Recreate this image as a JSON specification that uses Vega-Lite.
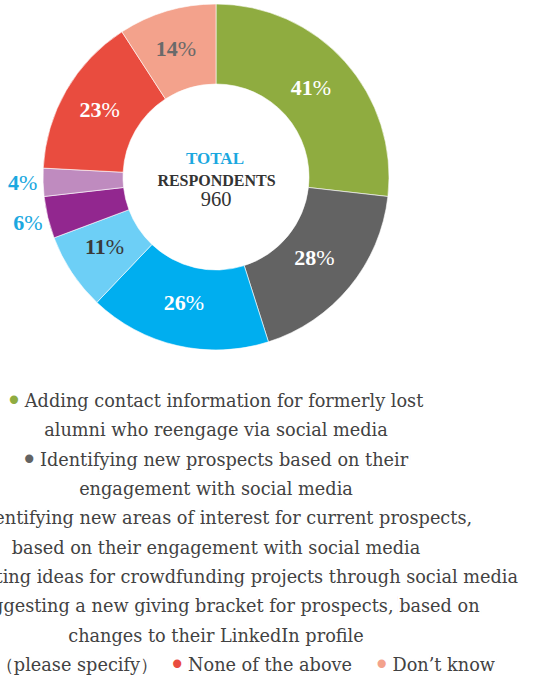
{
  "$schema": "https://vega.github.io/schema/vega-lite/v6.json",
  "width": 534,
  "height": 681,
  "autosize": {"type": "none"},
  "padding": 0,
  "background": "white",
  "config": {"view": {"stroke": null}, "text": {"font": "DejaVu Serif"}},
  "datasets": {
    "slices": [
      {"rank": 1, "category": "Adding contact information for formerly lost alumni who reengage via social media", "pct": 41},
      {"rank": 2, "category": "Identifying new prospects based on their engagement with social media", "pct": 28},
      {"rank": 3, "category": "Identifying new areas of interest for current prospects, based on their engagement with social media", "pct": 26},
      {"rank": 4, "category": "Generating ideas for crowdfunding projects through social media", "pct": 11},
      {"rank": 5, "category": "Suggesting a new giving bracket for prospects, based on changes to their LinkedIn profile", "pct": 6},
      {"rank": 6, "category": "Other (please specify)", "pct": 4},
      {"rank": 7, "category": "None of the above", "pct": 23},
      {"rank": 8, "category": "Don’t know", "pct": 14}
    ],
    "legend": [
      {"line": 1, "lead": true, "category": "Adding contact information for formerly lost alumni who reengage via social media", "text": "Adding contact information for formerly lost"},
      {"line": 2, "lead": false, "category": "Adding contact information for formerly lost alumni who reengage via social media", "text": "alumni who reengage via social media"},
      {"line": 3, "lead": true, "category": "Identifying new prospects based on their engagement with social media", "text": "Identifying new prospects based on their"},
      {"line": 4, "lead": false, "category": "Identifying new prospects based on their engagement with social media", "text": "engagement with social media"},
      {"line": 5, "lead": true, "category": "Identifying new areas of interest for current prospects, based on their engagement with social media", "text": "Identifying new areas of interest for current prospects,"},
      {"line": 6, "lead": false, "category": "Identifying new areas of interest for current prospects, based on their engagement with social media", "text": "based on their engagement with social media"},
      {"line": 7, "lead": true, "category": "Generating ideas for crowdfunding projects through social media", "text": "Generating ideas for crowdfunding projects through social media"},
      {"line": 8, "lead": true, "category": "Suggesting a new giving bracket for prospects, based on changes to their LinkedIn profile", "text": "Suggesting a new giving bracket for prospects, based on"},
      {"line": 9, "lead": false, "category": "Suggesting a new giving bracket for prospects, based on changes to their LinkedIn profile", "text": "changes to their LinkedIn profile"},
      {"line": 10, "lead": true, "category": "Other (please specify)", "text": "Other（please specify）"},
      {"line": 10, "lead": true, "category": "None of the above", "text": "None of the above"},
      {"line": 10, "lead": true, "category": "Don’t know", "text": "Don’t know"}
    ],
    "total": [{"label1": "TOTAL", "label2": "RESPONDENTS", "total": 960}]
  },
  "layer": [
    {
      "data": {"name": "slices"},
      "mark": {"type": "arc", "outerRadius": 173, "innerRadius": 93, "stroke": "white", "strokeWidth": 0.6},
      "encoding": {
        "x": {"value": 216},
        "y": {"value": 177},
        "theta": {"field": "pct", "type": "quantitative", "stack": true},
        "order": {"field": "rank"},
        "color": {
          "field": "category",
          "type": "nominal",
          "legend": null,
          "scale": {
            "domain": [
              "Adding contact information for formerly lost alumni who reengage via social media",
              "Identifying new prospects based on their engagement with social media",
              "Identifying new areas of interest for current prospects, based on their engagement with social media",
              "Generating ideas for crowdfunding projects through social media",
              "Suggesting a new giving bracket for prospects, based on changes to their LinkedIn profile",
              "Other (please specify)",
              "None of the above",
              "Don’t know"
            ],
            "range": ["#8fac40", "#636363", "#00aeef", "#6dcff6", "#92278f", "#bf8bbf", "#e94c3f", "#f3a28c"]
          }
        }
      }
    },
    {
      "data": {"name": "slices"},
      "mark": {"type": "text", "font": "Liberation Serif", "radius": 131, "align": "right", "baseline": "middle", "fontWeight": "bold", "fontSize": 22, "dx": -1, "dy": -2},
      "encoding": {
        "x": {"value": 216},
        "y": {"value": 177},
        "theta": {"field": "pct", "type": "quantitative", "stack": true},
        "order": {"field": "rank"},
        "text": {"field": "pct"},
        "color": {"condition": [{"test": "datum.pct == 14", "value": "#6a6a6a"}, {"test": "datum.pct == 11", "value": "#3a3a3a"}], "value": "#ffffff"},
        "opacity": {"condition": {"test": "datum.pct <= 6", "value": 0}, "value": 1}
      }
    },
    {
      "data": {"name": "slices"},
      "mark": {"type": "text", "font": "Liberation Serif", "radius": 131, "align": "left", "baseline": "middle", "fontWeight": "normal", "fontSize": 22, "dx": -1, "dy": -2, "text": "%"},
      "encoding": {
        "x": {"value": 216},
        "y": {"value": 177},
        "theta": {"field": "pct", "type": "quantitative", "stack": true},
        "order": {"field": "rank"},
        "color": {"condition": [{"test": "datum.pct == 14", "value": "#6a6a6a"}, {"test": "datum.pct == 11", "value": "#3a3a3a"}], "value": "#ffffff"},
        "opacity": {"condition": {"test": "datum.pct <= 6", "value": 0}, "value": 1}
      }
    },
    {
      "data": {"name": "slices"},
      "mark": {"type": "text", "font": "Liberation Serif", "radius": 193, "align": "right", "baseline": "middle", "fontWeight": "bold", "fontSize": 22, "dx": -4, "dy": 0.5, "color": "#1ba8e0"},
      "encoding": {
        "x": {"value": 216},
        "y": {"value": 177},
        "theta": {"field": "pct", "type": "quantitative", "stack": true},
        "order": {"field": "rank"},
        "text": {"field": "pct"},
        "opacity": {"condition": {"test": "datum.pct <= 6", "value": 1}, "value": 0}
      }
    },
    {
      "data": {"name": "slices"},
      "mark": {"type": "text", "font": "Liberation Serif", "radius": 193, "align": "left", "baseline": "middle", "fontWeight": "normal", "fontSize": 22, "dx": -4, "dy": 0.5, "text": "%", "color": "#1ba8e0"},
      "encoding": {
        "x": {"value": 216},
        "y": {"value": 177},
        "theta": {"field": "pct", "type": "quantitative", "stack": true},
        "order": {"field": "rank"},
        "opacity": {"condition": {"test": "datum.pct <= 6", "value": 1}, "value": 0}
      }
    },
    {
      "data": {"name": "total"},
      "mark": {"type": "text", "font": "Liberation Serif", "align": "center", "baseline": "middle", "fontWeight": "bold", "fontSize": 17, "letterSpacing": 3, "color": "#1ba8e0", "dy": -18},
      "encoding": {"x": {"value": 215}, "y": {"value": 177}, "text": {"field": "label1"}}
    },
    {
      "data": {"name": "total"},
      "mark": {"type": "text", "font": "Liberation Serif", "align": "center", "baseline": "middle", "fontWeight": "bold", "fontSize": 16, "letterSpacing": 2.5, "color": "#333333", "dy": 4},
      "encoding": {"x": {"value": 216.5}, "y": {"value": 177}, "text": {"field": "label2"}}
    },
    {
      "data": {"name": "total"},
      "mark": {"type": "text", "font": "Liberation Serif", "align": "center", "baseline": "middle", "fontSize": 20.5, "color": "#333333", "dy": 23},
      "encoding": {"x": {"value": 216}, "y": {"value": 177}, "text": {"field": "total"}}
    },
    {
      "data": {"name": "legend"},
      "transform": [{"calculate": "'• ' + datum.text", "as": "btext"}],
      "layer": [
        {
          "transform": [{"filter": "!datum.lead"}],
          "mark": {"type": "text", "align": "center", "baseline": "middle", "fontSize": 17.7, "color": "#424242"},
          "encoding": {"text": {"field": "text"}}
        },
        {
          "transform": [{"filter": "datum.lead && datum.line < 10"}],
          "layer": [
            {"mark": {"type": "text", "align": "center", "baseline": "middle", "fontSize": 17.7, "strokeWidth": 3}, "encoding": {"text": {"field": "btext"}, "color": {"field": "category", "type": "nominal", "legend": null}, "stroke": {"field": "category", "type": "nominal", "legend": null, "scale": {"domain": ["Adding contact information for formerly lost alumni who reengage via social media", "Identifying new prospects based on their engagement with social media", "Identifying new areas of interest for current prospects, based on their engagement with social media", "Generating ideas for crowdfunding projects through social media", "Suggesting a new giving bracket for prospects, based on changes to their LinkedIn profile", "Other (please specify)", "None of the above", "Don’t know"], "range": ["#8fac40", "#636363", "#00aeef", "#6dcff6", "#92278f", "#bf8bbf", "#e94c3f", "#f3a28c"]}}}},
            {"mark": {"type": "text", "align": "center", "baseline": "middle", "fontSize": 17.7, "color": "white", "stroke": "white", "strokeWidth": 4.5, "dx": 8.05}, "encoding": {"text": {"field": "text"}}},
            {"mark": {"type": "text", "align": "center", "baseline": "middle", "fontSize": 17.7, "color": "#424242", "dx": 8.05}, "encoding": {"text": {"field": "text"}}}
          ]
        },
        {
          "transform": [{"filter": "datum.line == 10 && datum.category == 'Other (please specify)'"}],
          "layer": [
            {"mark": {"type": "text", "align": "right", "baseline": "middle", "fontSize": 17.7, "dx": -58, "strokeWidth": 3}, "encoding": {"text": {"field": "btext"}, "color": {"field": "category", "type": "nominal", "legend": null}, "stroke": {"field": "category", "type": "nominal", "legend": null}}},
            {"mark": {"type": "text", "align": "right", "baseline": "middle", "fontSize": 17.7, "dx": -58, "color": "white", "stroke": "white", "strokeWidth": 4.5}, "encoding": {"text": {"field": "text"}}},
            {"mark": {"type": "text", "align": "right", "baseline": "middle", "fontSize": 17.7, "dx": -58, "color": "#424242"}, "encoding": {"text": {"field": "text"}}}
          ]
        },
        {
          "transform": [{"filter": "datum.line == 10 && datum.category == 'None of the above'"}],
          "layer": [
            {"mark": {"type": "text", "align": "right", "baseline": "middle", "fontSize": 17.7, "dx": 136, "strokeWidth": 3}, "encoding": {"text": {"field": "btext"}, "color": {"field": "category", "type": "nominal", "legend": null}, "stroke": {"field": "category", "type": "nominal", "legend": null}}},
            {"mark": {"type": "text", "align": "right", "baseline": "middle", "fontSize": 17.7, "dx": 136, "color": "white", "stroke": "white", "strokeWidth": 4.5}, "encoding": {"text": {"field": "text"}}},
            {"mark": {"type": "text", "align": "right", "baseline": "middle", "fontSize": 17.7, "dx": 136, "color": "#424242"}, "encoding": {"text": {"field": "text"}}}
          ]
        },
        {
          "transform": [{"filter": "datum.line == 10 && datum.category == 'Don’t know'"}],
          "layer": [
            {"mark": {"type": "text", "align": "right", "baseline": "middle", "fontSize": 17.7, "dx": 279, "strokeWidth": 3}, "encoding": {"text": {"field": "btext"}, "color": {"field": "category", "type": "nominal", "legend": null}, "stroke": {"field": "category", "type": "nominal", "legend": null}}},
            {"mark": {"type": "text", "align": "right", "baseline": "middle", "fontSize": 17.7, "dx": 279, "color": "white", "stroke": "white", "strokeWidth": 4.5}, "encoding": {"text": {"field": "text"}}},
            {"mark": {"type": "text", "align": "right", "baseline": "middle", "fontSize": 17.7, "dx": 279, "color": "#424242"}, "encoding": {"text": {"field": "text"}}}
          ]
        }
      ],
      "encoding": {
        "x": {"value": 216},
        "y": {"field": "line", "type": "ordinal", "axis": null, "scale": {"type": "point", "range": [402, 666], "padding": 0}}
      }
    }
  ]
}
